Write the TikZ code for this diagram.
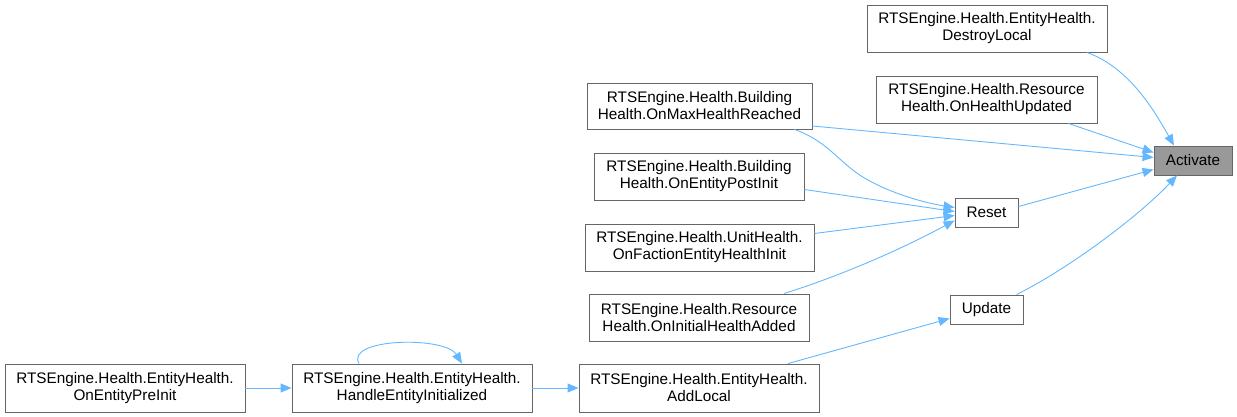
\documentclass[tikz,border=0pt]{standalone}
\usepackage{fontspec}
\setmainfont{Liberation Sans}
\usetikzlibrary{arrows.meta,calc}
\definecolor{edgeblue}{HTML}{63B8FF}
\definecolor{boxborder}{HTML}{666666}
\definecolor{actfill}{HTML}{999999}
\begin{document}
\begin{tikzpicture}[x=1pt,y=-1pt,
  fn/.style={draw=boxborder,line width=0.9pt,fill=white,inner sep=0pt,align=center,
    font=\fontsize{15.3}{17}\selectfont,minimum height=47pt},
  fnone/.style={fn,minimum height=29pt},
  call/.style={draw=edgeblue,line width=0.9pt,-{Triangle[length=11pt,width=9pt]}}]
\useasboundingbox (0,0) rectangle (1237,417);
\node[fnone,fill=actfill,minimum width=78pt] (act) at (1193,160.5) {Activate};
\node[fn,minimum width=240pt] (dl) at (987,28.5) {RTSEngine.Health.EntityHealth.\\DestroyLocal};
\node[fn,minimum width=221pt] (ohu) at (986.5,99.5) {RTSEngine.Health.Resource\\Health.OnHealthUpdated};
\node[fn,minimum width=225pt,minimum height=46pt] (omh) at (699.5,106) {RTSEngine.Health.Building\\Health.OnMaxHealthReached};
\node[fn,minimum width=210pt] (oepi) at (699,176.5) {RTSEngine.Health.Building\\Health.OnEntityPostInit};
\node[fn,minimum width=229pt] (ofe) at (699.5,247.5) {RTSEngine.Health.UnitHealth.\\OnFactionEntityHealthInit};
\node[fn,minimum width=220pt] (oiha) at (699,317.5) {RTSEngine.Health.Resource\\Health.OnInitialHealthAdded};
\node[fnone,minimum width=63pt] (reset) at (986.5,212.5) {Reset};
\node[fnone,minimum width=73pt] (upd) at (986.5,309.5) {Update};
\node[fn,minimum width=240pt,minimum height=48pt] (oep) at (125,388) {RTSEngine.Health.EntityHealth.\\OnEntityPreInit};
\node[fn,minimum width=240pt,minimum height=48pt] (hei) at (412,388) {RTSEngine.Health.EntityHealth.\\HandleEntityInitialized};
\node[fn,minimum width=240pt,minimum height=48pt] (al) at (699,388) {RTSEngine.Health.EntityHealth.\\AddLocal};

\draw[call] ($(dl.south)+(100,0)$) .. controls (1130,68) and (1155,112) .. ($(act.north)+(-19,0)$);
\draw[call] ($(ohu.south)+(82,0)$) -- ($(act.west)+(0,-8)$);
\draw[call] ($(omh.east)+(0,20)$) -- ($(act.west)+(0,-3)$);
\draw[call] ($(reset.east)+(0,-6)$) -- ($(act.west)+(0,9)$);
\draw[call] ($(upd.north)+(30,0)$) .. controls (1070,268) and (1140,215) .. ($(act.south)+(-16,0)$);
\draw[call] ($(omh.south)+(95,0)$) .. controls (830,142) and (840,165) .. (868,180)
  .. controls (893,194) and (925,203) .. ($(reset.west)+(0,-5)$);
\draw[call] ($(oepi.east)+(0,13)$) -- ($(reset.west)+(0,-1)$);
\draw[call] ($(ofe.east)+(0,-14)$) -- ($(reset.west)+(0,3)$);
\draw[call] ($(oiha.north)+(85,0)$) .. controls (840,276) and (900,250) .. ($(reset.west)+(0,8)$);
\draw[call] ($(al.north)+(89,0)$) -- ($(upd.west)+(0,9)$);
\draw[call] (hei.east) -- (al.west);
\draw[call] (oep.east) -- (hei.west);
\draw[call] ($(hei.north)+(-53,0)$) .. controls (345,338) and (445,336) .. ($(hei.north)+(50,0)$);
\end{tikzpicture}
\end{document}
